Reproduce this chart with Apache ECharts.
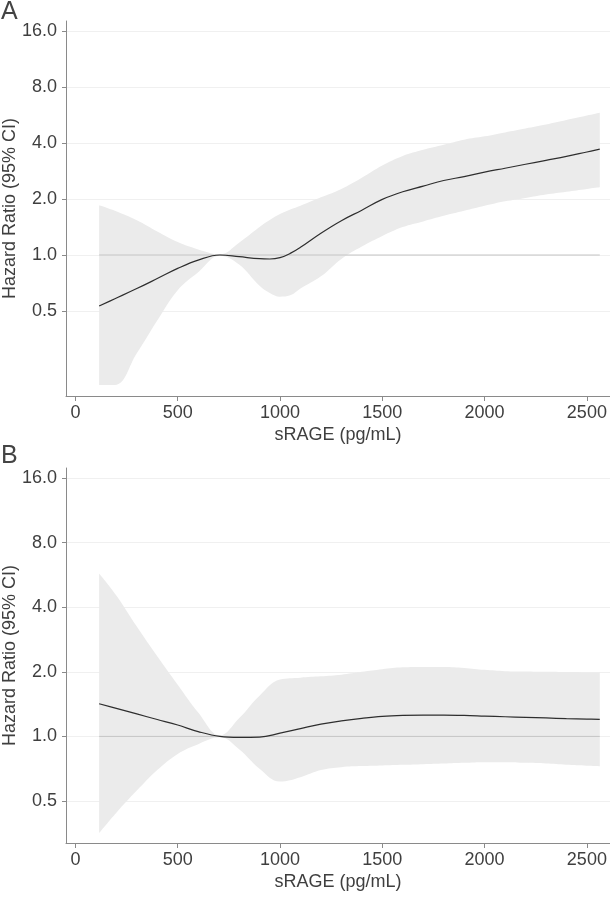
<!DOCTYPE html>
<html>
<head>
<meta charset="utf-8">
<script src="https://cdn.jsdelivr.net/npm/echarts@6/dist/echarts.min.js"></script>
<style>
html,body{margin:0;padding:0;background:#fff;}
#chart{width:610px;height:900px;}
</style>
</head>
<body>
<div id="chart"></div>
<script>
// Panel A
const sragePanelA = [116, 193, 300, 400, 500, 600, 706, 800, 900, 950, 1000, 1050, 1100, 1200, 1300, 1400, 1500, 1600, 1700, 1800, 1900, 2000, 2100, 2200, 2300, 2400, 2500, 2563];
const hrPanelA    = [0.532, 0.582, 0.660, 0.747, 0.847, 0.939, 1.0, 0.979, 0.955, 0.952, 0.968, 1.020, 1.100, 1.310, 1.530, 1.741, 1.990, 2.188, 2.346, 2.514, 2.639, 2.790, 2.928, 3.074, 3.227, 3.387, 3.580, 3.706];
const lowerPanelA = [0.200, 0.200, 0.296, 0.444, 0.646, 0.807, 0.99, 0.889, 0.683, 0.625, 0.597, 0.607, 0.660, 0.768, 0.953, 1.110, 1.266, 1.414, 1.516, 1.625, 1.729, 1.840, 1.945, 2.028, 2.114, 2.188, 2.266, 2.313];
const upperPanelA = [1.853, 1.730, 1.537, 1.338, 1.173, 1.072, 1.01, 1.165, 1.414, 1.540, 1.659, 1.755, 1.840, 2.042, 2.266, 2.603, 3.031, 3.411, 3.681, 3.918, 4.170, 4.347, 4.563, 4.790, 5.028, 5.315, 5.618, 5.816];

// Panel B
const sragePanelB = [116, 200, 300, 400, 500, 600, 706, 800, 900, 1000, 1100, 1200, 1300, 1400, 1500, 1600, 1700, 1800, 1900, 2000, 2100, 2200, 2300, 2400, 2500, 2563];
const hrPanelB    = [1.420, 1.351, 1.273, 1.199, 1.130, 1.053, 1.0, 0.990, 0.993, 1.035, 1.087, 1.141, 1.181, 1.214, 1.240, 1.253, 1.257, 1.257, 1.253, 1.244, 1.235, 1.227, 1.219, 1.210, 1.204, 1.200];
const lowerPanelB = [0.354, 0.441, 0.559, 0.697, 0.829, 0.920, 0.99, 0.871, 0.707, 0.616, 0.646, 0.697, 0.719, 0.727, 0.732, 0.737, 0.742, 0.747, 0.753, 0.758, 0.758, 0.753, 0.747, 0.737, 0.729, 0.724];
const upperPanelB = [5.736, 4.532, 3.249, 2.362, 1.741, 1.292, 1.01, 1.214, 1.548, 1.840, 1.879, 1.905, 1.939, 2.0, 2.056, 2.099, 2.107, 2.107, 2.085, 2.042, 2.014, 2.007, 2.0, 1.996, 1.993, 1.993];

const yTickValues = [0.5, 1, 2, 4, 8, 16];
const xTickValues = [0, 500, 1000, 1500, 2000, 2500];
const panelLetters = ['A', 'B'];
const xAxisTitle = 'sRAGE (pg/mL)';
const yAxisTitle = 'Hazard Ratio (95% CI)';
const referenceHR = 1;

const FONT = 'Liberation Sans';
const TXT = '#3f3f3f';
const AXIS = '#8a8a8a';

const panels = [
  {x: sragePanelA, hr: hrPanelA, lo: lowerPanelA, up: upperPanelA, top: 21, yMin: -2.518, yMax: 4.179},
  {x: sragePanelB, hr: hrPanelB, lo: lowerPanelB, up: upperPanelB, top: 468, yMin: -1.650, yMax: 4.155}
];

const grids = [], xAxes = [], yAxes = [], series = [];
panels.forEach((p, i) => {
  grids.push({left: 66, right: 0, top: p.top, height: 375, containLabel: false, outerBoundsMode: 'none'});
  xAxes.push({
    type: 'value', gridIndex: i, min: -46, max: 2613,
    name: xAxisTitle, nameLocation: 'middle', nameGap: 30, nameMoveOverlap: false,
    nameTextStyle: {fontFamily: FONT, fontSize: 18, color: TXT},
    axisLine: {onZero: false, lineStyle: {color: AXIS, width: 1}},
    axisTick: {show: true, length: 5, customValues: xTickValues, lineStyle: {color: AXIS}},
    axisLabel: {customValues: xTickValues, fontFamily: FONT, fontSize: 18, color: TXT, margin: 8,
      formatter: v => String(v)},
    splitLine: {show: false}
  });
  yAxes.push({
    type: 'value', gridIndex: i, min: p.yMin, max: p.yMax,
    name: yAxisTitle, nameLocation: 'middle', nameGap: 47, nameRotate: 90, nameMoveOverlap: false,
    nameTextStyle: {fontFamily: FONT, fontSize: 18, color: TXT},
    axisLine: {show: true, onZero: false, lineStyle: {color: AXIS, width: 1}},
    axisTick: {show: true, length: 4, customValues: yTickValues.map(v => Math.log2(v)), lineStyle: {color: AXIS}},
    axisLabel: {customValues: yTickValues.map(v => Math.log2(v)), fontFamily: FONT, fontSize: 18, color: TXT, margin: 9,
      formatter: v => Math.pow(2, v).toFixed(1)},
    splitLine: {show: true, lineStyle: {color: '#f0f0f0', width: 1}}
  });
  const stackId = 'band' + i;
  // band: data stored as [log2 value, x] so that stacking runs on the y dimension
  series.push({
    type: 'line', xAxisIndex: i, yAxisIndex: i, stack: stackId, stackStrategy: 'all',
    encode: {x: 1, y: 0},
    data: p.x.map((x, k) => [Math.log2(p.lo[k]), x]),
    symbol: 'none', smooth: 0.4, lineStyle: {opacity: 0}, silent: true, z: 1
  });
  series.push({
    type: 'line', xAxisIndex: i, yAxisIndex: i, stack: stackId, stackStrategy: 'all',
    encode: {x: 1, y: 0},
    data: p.x.map((x, k) => [Math.log2(p.up[k]) - Math.log2(p.lo[k]), x]),
    symbol: 'none', smooth: 0.4, lineStyle: {opacity: 0},
    areaStyle: {color: '#ebebeb', opacity: 1}, silent: true, z: 1
  });
  series.push({
    type: 'line', xAxisIndex: i, yAxisIndex: i,
    data: [[p.x[0], Math.log2(referenceHR)], [p.x[p.x.length - 1], Math.log2(referenceHR)]],
    symbol: 'none', lineStyle: {color: '#c4c4c4', width: 1}, silent: true, z: 2
  });
  series.push({
    type: 'line', xAxisIndex: i, yAxisIndex: i,
    data: p.x.map((x, k) => [x, Math.log2(p.hr[k])]),
    symbol: 'none', smooth: 0.4, lineStyle: {color: '#2e2e2e', width: 1.2}, silent: true, z: 3
  });
});

const chart = echarts.init(document.getElementById('chart'), null, {renderer: 'canvas'});
chart.setOption({
  animation: false,
  backgroundColor: '#ffffff',
  grid: grids, xAxis: xAxes, yAxis: yAxes, series: series,
  graphic: [
    {type: 'text', left: 1, top: 0, style: {text: panelLetters[0], font: '25px "Liberation Sans"', fill: '#444'}},
    {type: 'text', left: 1, top: 444, style: {text: panelLetters[1], font: '25px "Liberation Sans"', fill: '#444'}}
  ]
});
</script>
</body>
</html>
